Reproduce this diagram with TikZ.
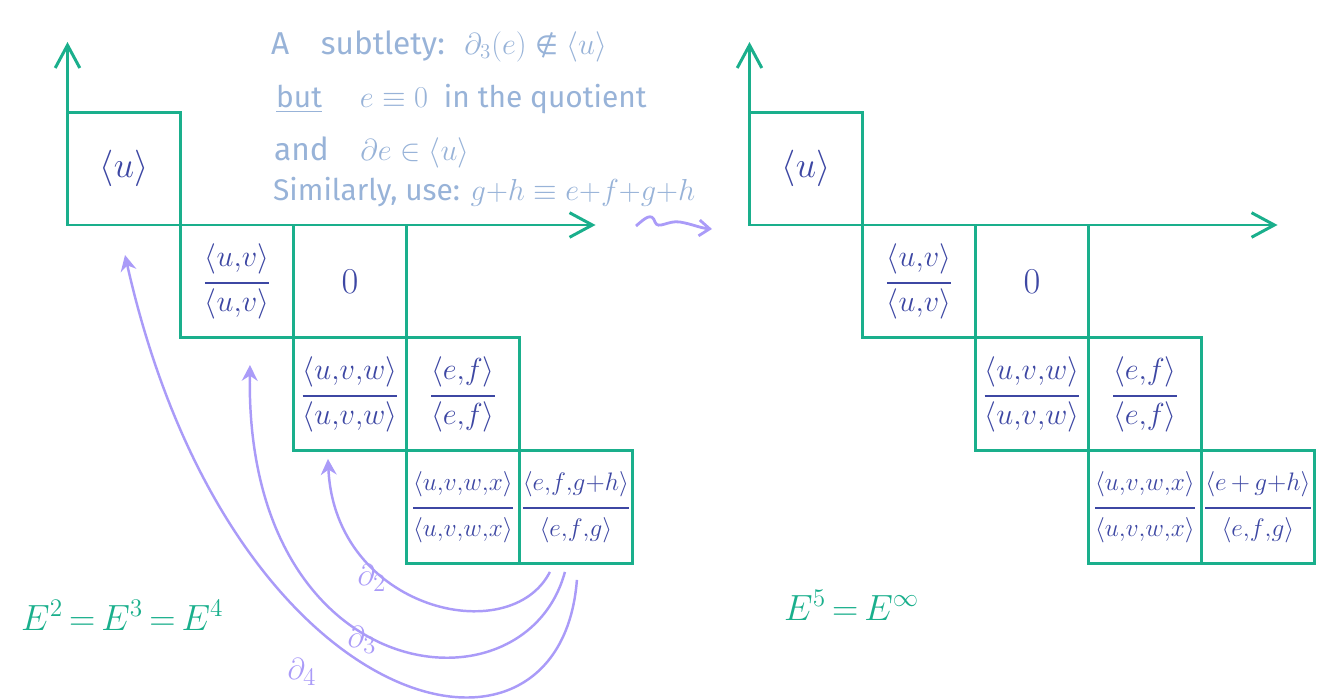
\documentclass[tikz,border=0pt]{standalone}
\usepackage{fontspec}
\setmainfont{Fira Sans}
\newfontfamily\symbolfont{DejaVu Sans}
\usepackage{amsmath,amssymb}
\usetikzlibrary{
    arrows.meta,
    positioning
}
\definecolor{pagegreen}{RGB}{26,175,140}
\definecolor{cellblue}{RGB}{61,71,163}
\definecolor{diffpurple}{RGB}{170,155,248}
\definecolor{noteblue}{RGB}{152,179,216}
% quotient written as a fraction inside a cell
\newcommand{\cellfrac}[2]{$\genfrac{}{}{1pt}{0}{\rule[-6pt]{0pt}{6pt}#1}{\rule{0pt}{13pt}#2}$}
\tikzset{
    % Grid styles
    cell/.style={
        draw=pagegreen,
        line width=1.7pt,
        rectangle,
        minimum size=2.26cm,
        inner sep=0pt,
        outer sep=0pt,
        text=cellblue,
        font=\fontsize{15}{17}\selectfont
    },
    big cell/.style={cell, font=\fontsize{22}{24}\selectfont},
    wide cell/.style={cell, font=\fontsize{19}{21}\selectfont},
    axis/.style={
        -{Straight Barb[length=13pt,width=14pt]},
        line width=1.7pt,
        pagegreen
    },
    % Differential styles
    diff/.style={
        -{Stealth[length=9pt,width=9pt]},
        line width=1.4pt,
        diffpurple
    },
    diff label/.style={
        text=diffpurple,
        font=\fontsize{19}{21}\selectfont
    },
    page label/.style={
        text=pagegreen,
        anchor=base west,
        font=\fontsize{22}{24}\selectfont
    },
    note/.style={
        text=noteblue,
        anchor=base west,
        font=\fontsize{18}{20}\selectfont
    }
}

\begin{document}
\begin{tikzpicture}[x=0.02cm, y=-0.02cm]
        \useasboundingbox (0,0) rectangle (1318,698);

        % Left page
        \node[big cell] (L-u) at (124,168.5) {$\langle u\rangle$};
        \node[wide cell, below right=0pt of L-u] (L-uv) {\cellfrac{\langle u{,}v\rangle}{\langle u{,}v\rangle}};
        \node[big cell, right=0pt of L-uv] (L-zero) {$0$};
        \node[cell, below=0pt of L-zero, font=\fontsize{16}{18}\selectfont] (L-uvw) {\cellfrac{\langle u{,}v{,}w\rangle}{\langle u{,}v{,}w\rangle}};
        \node[wide cell, right=0pt of L-uvw] (L-ef) {\cellfrac{\langle e{,}f\rangle}{\langle e{,}f\rangle}};
        \node[cell, below=0pt of L-ef] (L-uvwx) {\cellfrac{\langle u{,}v{,}w{,}x\rangle}{\langle u{,}v{,}w{,}x\rangle}};
        \node[cell, right=0pt of L-uvwx, font=\fontsize{14.5}{16}\selectfont] (L-efg) {\cellfrac{\langle e{,}f{,}g{+}h\rangle}{\langle e{,}f{,}g\rangle}};
        \draw[axis] (L-u.south west) -- ++(0,-183);
        \draw[axis] (L-u.south west) -- ++(528,0);
        \node[page label] (L-page) at (15,630) {$E^2\,{=}\,E^3\,{=}\,E^4$};

        % Right page
        \node[big cell] (R-u) at (806,168.5) {$\langle u\rangle$};
        \node[wide cell, below right=0pt of R-u] (R-uv) {\cellfrac{\langle u{,}v\rangle}{\langle u{,}v\rangle}};
        \node[big cell, right=0pt of R-uv] (R-zero) {$0$};
        \node[cell, below=0pt of R-zero, font=\fontsize{16}{18}\selectfont] (R-uvw) {\cellfrac{\langle u{,}v{,}w\rangle}{\langle u{,}v{,}w\rangle}};
        \node[wide cell, right=0pt of R-uvw] (R-ef) {\cellfrac{\langle e{,}f\rangle}{\langle e{,}f\rangle}};
        \node[cell, below=0pt of R-ef] (R-uvwx) {\cellfrac{\langle u{,}v{,}w{,}x\rangle}{\langle u{,}v{,}w{,}x\rangle}};
        \node[cell, right=0pt of R-uvwx, font=\fontsize{14.5}{16}\selectfont] (R-efg) {\cellfrac{\langle e\,{+}\,g{+}h\rangle}{\langle e{,}f{,}g\rangle}};
        \draw[axis] (R-u.south west) -- ++(0,-183);
        \draw[axis] (R-u.south west) -- ++(528,0);
        \node[page label] (R-page) at (778,620) {$E^5\,{=}\,E^\infty$};

        % Remark
        \node[note] (note1) at (265,54) {A\quad subtlety: \ $\partial_3(e)$ {\symbolfont\fontsize{15}{18}\selectfont ∉} $\langle u\rangle$};
        \node[note, font=\fontsize{17}{20}\selectfont] (note2) at (270,107) {\underline{but}\quad\ $e\equiv 0$\ \ in the quotient};
        \node[note] (note3) at (268,160) {and\quad $\partial e\in\langle u\rangle$};
        \node[note, font=\fontsize{17}{20}\selectfont] (note4) at (267,200) {Similarly, use: $g{+}h\equiv e{+}f{+}g{+}h$};

        % Differentials
        \draw[diff] ([shift={(-26,8)}]L-efg.south) .. controls (510,650) and (335,610) .. ([shift={(-22,8)}]L-uvw.south);
        \draw[diff] ([shift={(-11,8)}]L-efg.south) .. controls (525,720) and (245,690) .. ([shift={(13,27)}]L-uv.south);
        \draw[diff] ([shift={(1,16)}]L-efg.south) .. controls (560,800) and (230,720) .. ([shift={(1,30)}]L-u.south);
        \node[diff label] (d2) at (372,578) {$\partial_2$};
        \node[diff label] (d3) at (362,640) {$\partial_3$};
        \node[diff label] (d4) at (302,672) {$\partial_4$};

        % Passing to the next page
        \coordinate (turn-from) at (636,226);
        \coordinate (turn-to) at (712,229);
        \draw[diffpurple, line width=1.6pt, -{Straight Barb[length=6pt,width=9pt]}] (turn-from) .. controls (645,218) and (652,212) .. (655,222)
            .. controls (658,230) and (668,220) .. (680,222) .. controls (692,224) and (700,228) .. (turn-to);
    \end{tikzpicture}
\end{document}
